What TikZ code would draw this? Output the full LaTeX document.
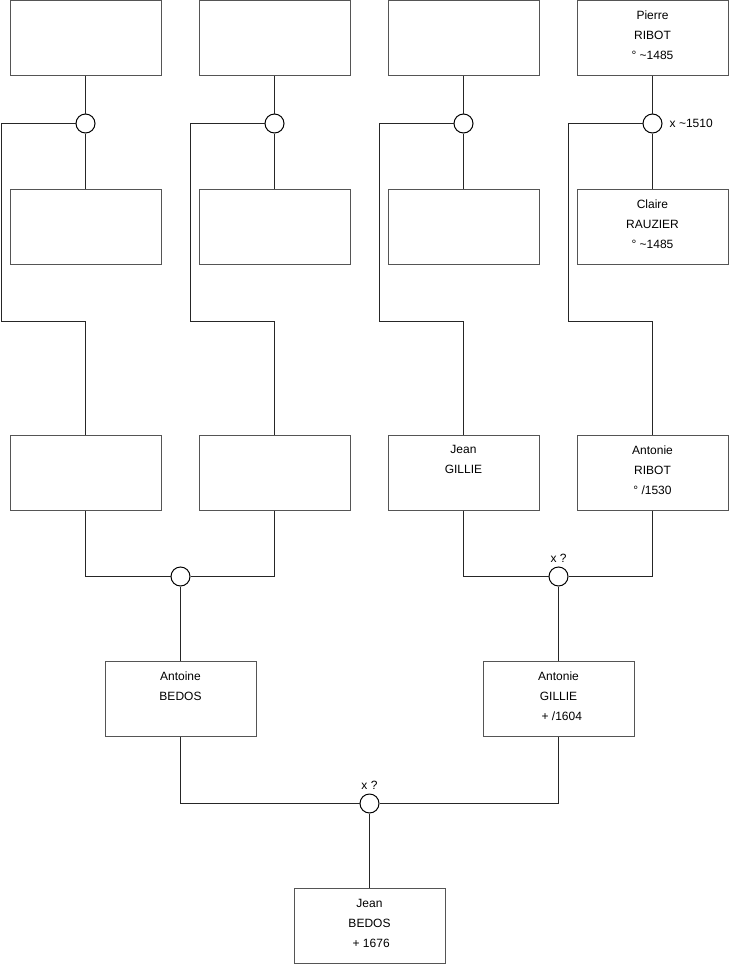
\documentclass[tikz,border=0pt]{standalone}
\usepackage{fontspec}
\setmainfont{Liberation Sans}
\begin{document}
\begin{tikzpicture}[x=1pt,y=-1pt,
  box/.style={draw={rgb,255:red,85;green,85;blue,85},line width=1pt,fill=white,minimum width=151pt,minimum height=75pt,inner sep=0pt},
  txt/.style={anchor=north,inner sep=0pt,align=center,font=\fontsize{12}{20}\selectfont},
  lbl/.style={inner sep=0pt,font=\fontsize{12}{14}\selectfont},
  wed/.style={circle,draw=black,line width=1pt,fill=white,minimum size=19pt,inner sep=0pt},
  ln/.style={line width=1pt,draw=black!85}]
\useasboundingbox[fill=white] (0,0) rectangle (740,975);
% top row
\node[box] (t1) at (85.5,37.5) {};
\node[box] (t2) at (274.5,37.5) {};
\node[box] (t3) at (463.5,37.5) {};
\node[box] (t4) at (652.5,37.5) {};
% second row
\node[box] (s1) at (85.5,227) {};
\node[box] (s2) at (274.5,227) {};
\node[box] (s3) at (463.5,227) {};
\node[box] (s4) at (652.5,227) {};
% third row
\node[box] (g1) at (85.5,472.5) {};
\node[box] (g2) at (274.5,472.5) {};
\node[box] (g3) at (463.5,472.5) {};
\node[box] (g4) at (652.5,472.5) {};
% fourth row
\node[box] (f1) at (180.5,699) {};
\node[box] (f2) at (558.5,699) {};
% bottom
\node[box] (b) at (369.5,926) {};
% marriage circles
\node[wed] (c1) at (85.5,123.5) {};
\node[wed] (c2) at (274.5,123.5) {};
\node[wed] (c3) at (463.5,123.5) {};
\node[wed] (c4) at (652.5,123.5) {};
\node[wed] (m1) at (180.5,576.5) {};
\node[wed] (m2) at (558.5,576.5) {};
\node[wed] (m3) at (369.5,803.5) {};
% bend points
\coordinate (k1) at (1.5,321.5);
\coordinate (k2) at (190.5,321.5);
\coordinate (k3) at (379.5,321.5);
\coordinate (k4) at (568.5,321.5);
% connectors
\foreach \i in {1,2,3,4}{
  \draw[ln] (t\i.south) -- (c\i.north);
  \draw[ln] (c\i.south) -- (s\i.north);
  \draw[ln] (c\i.west) -| (k\i) -| (g\i.north);
}
\draw[ln] (g1.south) |- (m1.west);
\draw[ln] (g2.south) |- (m1.east);
\draw[ln] (g3.south) |- (m2.west);
\draw[ln] (g4.south) |- (m2.east);
\draw[ln] (m1.south) -- (f1.north);
\draw[ln] (m2.south) -- (f2.north);
\draw[ln] (f1.south) |- (m3.west);
\draw[ln] (f2.south) |- (m3.east);
\draw[ln] (m3.south) -- (b.north);
% texts
\node[txt] (tt4) at ([yshift=-10.7pt]t4.north) {Pierre\\RIBOT\\° \textasciitilde1485};
\node[txt] (ts4) at ([yshift=-10.7pt]s4.north) {Claire\\RAUZIER\\° \textasciitilde1485};
\node[txt] (tg3) at ([yshift=-10.7pt]g3.north) {Jean\\GILLIE};
\node[txt] (tg4) at ([yshift=-10.7pt]g4.north) {Antonie\\RIBOT\\° /1530};
\node[txt] (tf1) at ([yshift=-10.7pt]f1.north) {Antoine\\BEDOS};
\node[txt] (tf2) at ([yshift=-10.7pt]f2.north) {Antonie\\GILLIE\\\ \ + /1604};
\node[txt] (tb) at ([yshift=-10.7pt]b.north) {Jean\\BEDOS\\\ + 1676};
% marriage labels
\node[lbl,anchor=west] (l4) at ([xshift=7pt]c4.east) {x \textasciitilde1510};
\node[lbl,anchor=base] (l2) at ([yshift=4.5pt]m2.north) {x ?};
\node[lbl,anchor=base] (l3) at ([yshift=4.5pt]m3.north) {x ?};
\end{tikzpicture}
\end{document}
